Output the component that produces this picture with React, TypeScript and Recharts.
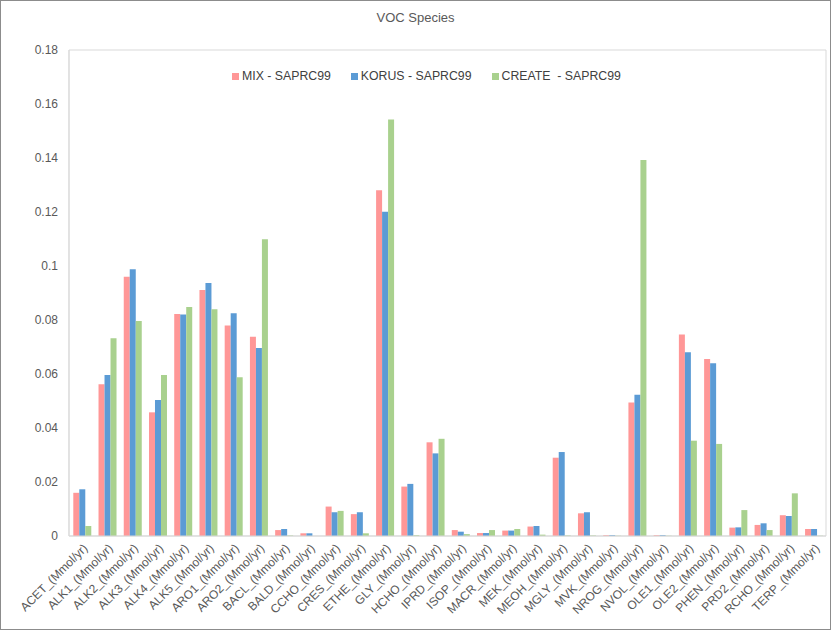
import React from 'react';
import { BarChart, Bar, XAxis, YAxis, Legend, ReferenceArea } from 'recharts';

const species = [
  'ACET', 'ALK1', 'ALK2', 'ALK3', 'ALK4', 'ALK5', 'ARO1', 'ARO2', 'BACL', 'BALD',
  'CCHO', 'CRES', 'ETHE', 'GLY', 'HCHO', 'IPRD', 'ISOP', 'MACR', 'MEK', 'MEOH',
  'MGLY', 'MVK', 'NROG', 'NVOL', 'OLE1', 'OLE2', 'PHEN', 'PRD2', 'RCHO', 'TERP',
];

const mix = [
  0.016, 0.0562, 0.096, 0.0458, 0.0822, 0.0911, 0.078, 0.0738, 0.0022, 0.001,
  0.0109, 0.0081, 0.1281, 0.0183, 0.0347, 0.0022, 0.0011, 0.002, 0.0035, 0.029,
  0.0084, 0.0003, 0.0494, 0.0003, 0.0746, 0.0656, 0.0031, 0.0041, 0.0077, 0.0026,
];

const korus = [
  0.0173, 0.0596, 0.0988, 0.0504, 0.082, 0.0937, 0.0825, 0.0696, 0.0026, 0.001,
  0.0088, 0.0088, 0.1201, 0.0193, 0.0306, 0.0016, 0.0011, 0.002, 0.0037, 0.0311,
  0.0088, 0.0003, 0.0523, 0.0003, 0.0681, 0.064, 0.0032, 0.0047, 0.0074, 0.0026,
];

const create = [
  0.0037, 0.0732, 0.0796, 0.0596, 0.0848, 0.084, 0.0588, 0.1099, 0.0002, 0,
  0.0093, 0.001, 0.1543, 0.0003, 0.036, 0.0007, 0.0022, 0.0026, 0.0005, 0.0002,
  0.0002, 0.0001, 0.1393, 0.0001, 0.0353, 0.0341, 0.0096, 0.0022, 0.0158, 0.0001,
];

const yTicks = [0, 0.02, 0.04, 0.06, 0.08, 0.1, 0.12, 0.14, 0.16, 0.18];

const series = [
  { key: 'mix', name: 'MIX - SAPRC99', color: '#FF9797' },
  { key: 'korus', name: 'KORUS - SAPRC99', color: '#5B9BD5' },
  { key: 'create', name: 'CREATE  - SAPRC99', color: '#A9D18E' },
];

const data = species.map((s, i) => ({
  name: `${s}_(Mmol/yr)`,
  mix: mix[i],
  korus: korus[i],
  create: create[i],
}));

const FONT = '"Liberation Sans", Arial, sans-serif';

function AngledTick({ x, y, payload }: any) {
  return (
    <g transform={`translate(${x + 4},${y + 2})`}>
      <text
        x={0}
        y={0}
        dy={4}
        textAnchor="end"
        fill="#595959"
        fontSize={12}
        fontFamily={FONT}
        transform="rotate(-45)"
      >
        {payload.value}
      </text>
    </g>
  );
}

function LegendBox() {
  return (
    <div style={{ display: 'flex', gap: 20, paddingLeft: 231, fontFamily: FONT, fontSize: 12.3, color: '#404040' }}>
      {series.map((s) => (
        <div key={s.key} style={{ display: 'flex', alignItems: 'center', whiteSpace: 'pre' }}>
          <span style={{ width: 7, height: 7, background: s.color, marginRight: 3, display: 'inline-block' }} />
          {s.name}
        </div>
      ))}
    </div>
  );
}

export default function App() {
  return (
    <div
      style={{
        position: 'absolute',
        left: 0,
        top: 0,
        width: 831,
        height: 630,
        boxSizing: 'border-box',
        border: '1px solid #8c8c8c',
        background: '#fff',
      }}
    >
      <div
        style={{
          position: 'absolute',
          top: 9,
          left: 0,
          width: 829,
          textAlign: 'center',
          fontFamily: FONT,
          fontSize: 13,
          color: '#595959',
        }}
      >
        VOC Species
      </div>
      <BarChart
        width={829}
        height={628}
        data={data}
        margin={{ top: 49, right: 4, left: 0, bottom: 5 }}
        barCategoryGap="17%"
        barGap={0}
      >
        <ReferenceArea y1={0} y2={0.18} fill="none" stroke="#d9d9d9" />
        <XAxis
          dataKey="name"
          interval={0}
          height={88}
          tickLine={false}
          tickSize={0}
          tickMargin={8}
          axisLine={{ stroke: '#d9d9d9' }}
          tick={<AngledTick />}
        />
        <YAxis
          width={68}
          domain={[0, 0.18]}
          ticks={yTicks}
          tickLine={false}
          tickSize={0}
          tickMargin={11}
          axisLine={{ stroke: '#d9d9d9' }}
          tick={{ fill: '#595959', fontSize: 12, fontFamily: FONT }}
        />
        <Legend
          layout="horizontal"
          verticalAlign="middle"
          align="center"
          wrapperStyle={{ top: 68, left: 0, width: 829 }}
          content={<LegendBox />}
        />
        {series.map((s) => (
          <Bar key={s.key} dataKey={s.key} name={s.name} fill={s.color} isAnimationActive={false} />
        ))}
      </BarChart>
    </div>
  );
}
